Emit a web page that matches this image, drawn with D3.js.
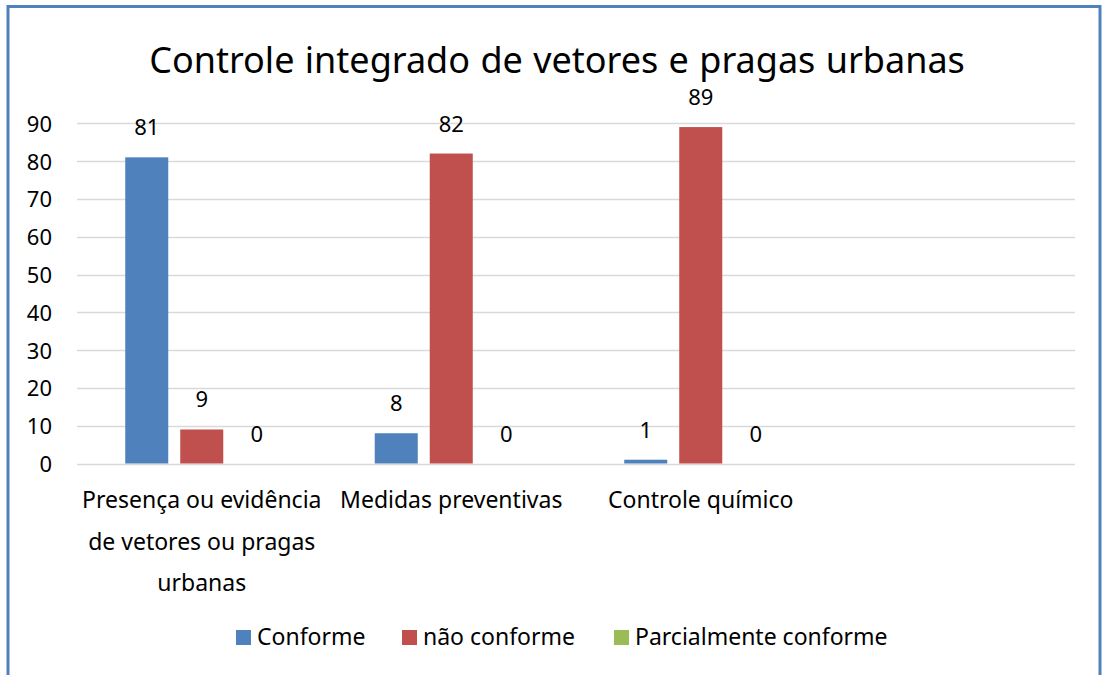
<!DOCTYPE html>
<html><head><meta charset="utf-8">
<script src="https://cdn.jsdelivr.net/npm/d3@7"></script>
<style>
html,body{margin:0;padding:0;background:#fff;}
text{font-family:"Noto Sans","Open Sans",sans-serif;fill:#000;}
</style></head>
<body>
<svg id="chart" width="1105" height="675"></svg>
<script>
const title = "Controle integrado de vetores e pragas urbanas";
const categories = ["Presença ou evidência de vetores ou pragas urbanas", "Medidas preventivas", "Controle químico", ""];
const seriesNames = ["Conforme", "não conforme", "Parcialmente conforme"];
const conforme = [81, 8, 1, null];
const naoConforme = [9, 82, 89, null];
const parcialmente = [0, 0, 0, null];
const colors = ["#4F81BD", "#C0504D", "#9BBB59"];
const yTicks = [0, 10, 20, 30, 40, 50, 60, 70, 80, 90];

(function(){
const svg = d3.select("#chart");
svg.append("rect").attr("x", 8).attr("y", 6.5).attr("width", 1092).attr("height", 680)
  .attr("fill", "#fff").attr("stroke", "#4F81BD").attr("stroke-width", 3);

const pL = 77, pR = 1075, pT = 123.3, pB = 463.5;
const x = d3.scaleBand().domain(d3.range(categories.length)).range([pL, pR]);
const y = d3.scaleLinear().domain([0, 90]).range([pB, pT]);
const series = [conforme, naoConforme, parcialmente];
const x1 = d3.scaleBand().domain(d3.range(series.length)).range([0, x.bandwidth()]).paddingInner(0.218).paddingOuter(0.877);

svg.append("text").attr("x", 557).attr("y", 73).attr("text-anchor", "middle")
  .style("font-size", "36px").style("word-spacing", "1px").text(title);

svg.append("g").selectAll("line").data(yTicks).join("line")
  .attr("x1", pL).attr("x2", pR)
  .attr("y1", d => Math.round(y(d)) + 0.5).attr("y2", d => Math.round(y(d)) + 0.5)
  .attr("stroke", "#D9D9D9").attr("stroke-width", 1.5);

const yAxis = d3.axisLeft(y).tickValues(yTicks).tickSize(0).tickPadding(0);
const ga = svg.append("g").attr("transform", `translate(52,0)`).call(yAxis);
ga.select(".domain").remove();
ga.attr("font-family", null).attr("font-size", null);
ga.selectAll("text").style("font-size", "22px").attr("dy", "0.36em");

series.forEach((s, si) => {
  const g = svg.append("g");
  const data = s.map((v, i) => ({v, i})).filter(d => d.v !== null);
  g.selectAll("rect").data(data).join("rect")
    .attr("x", d => x(d.i) + x1(si))
    .attr("width", x1.bandwidth())
    .attr("y", d => y(d.v))
    .attr("height", d => y(0) - y(d.v))
    .attr("fill", colors[si]);
  g.selectAll("text").data(data).join("text")
    .attr("x", d => x(d.i) + x1(si) + x1.bandwidth() / 2)
    .attr("y", d => y(d.v) - 22)
    .attr("text-anchor", "middle")
    .style("font-size", "22px")
    .text(d => d.v);
});

function wrap(str, width, fontSize) {
  const words = str.split(" ");
  const lines = [];
  const tmp = svg.append("text").style("font-size", fontSize + "px");
  let line = [];
  words.forEach(w => {
    line.push(w);
    tmp.text(line.join(" "));
    if (tmp.node().getComputedTextLength() > width && line.length > 1) {
      line.pop();
      lines.push(line.join(" "));
      line = [w];
    }
  });
  if (line.length) lines.push(line.join(" "));
  tmp.remove();
  return lines;
}
categories.forEach((c, i) => {
  if (!c) return;
  const lines = wrap(c, x.bandwidth() - 2, 23);
  const t = svg.append("text").attr("text-anchor", "middle").style("font-size", "23px");
  lines.forEach((l, li) => {
    t.append("tspan").attr("x", x(i) + x.bandwidth() / 2).attr("y", 508 + li * 41.5).text(l);
  });
});

const legendX = [236, 402, 614];
const lg = svg.append("g");
seriesNames.forEach((n, i) => {
  lg.append("rect").attr("x", legendX[i]).attr("y", 630).attr("width", 15).attr("height", 15).attr("fill", colors[i]);
  lg.append("text").attr("x", legendX[i] + 21).attr("y", 645).style("font-size", "23px").text(n);
});
})();
</script>
</body></html>
